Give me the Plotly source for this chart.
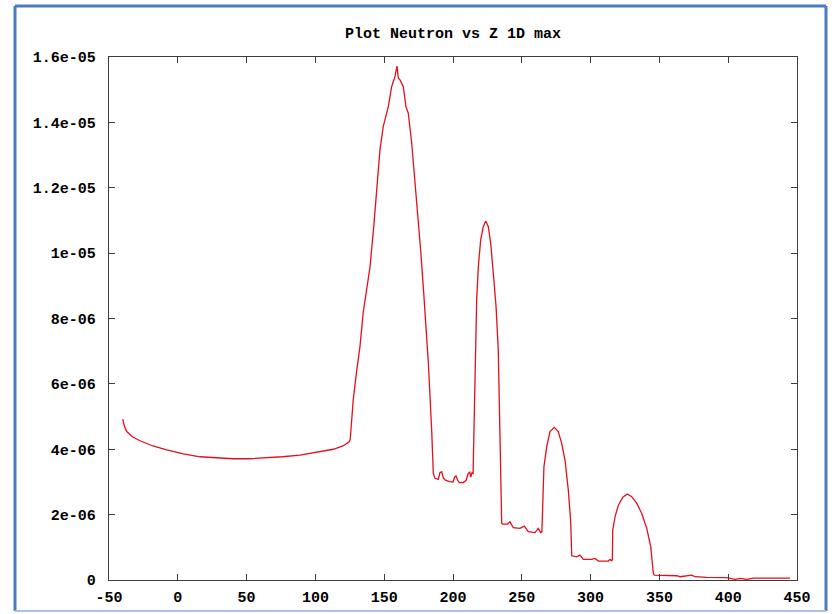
import plotly.graph_objects as go

# Data (y in units of 1e-6)
z_pos = [-40.0, -38.8, -37.1, -33.0, -27.5, -18.0, -8.1, 4.0, 16.1, 28.0, 40.1, 52.0, 64.6,
         76.0, 88.8, 100.0, 113.0, 120.0, 124.6,
         125.3, 127.5, 130.0, 132.4, 134.8, 138.4, 139.7, 142.6, 145.0, 146.9, 149.3, 153.0,
         155.4, 157.8, 159.3, 160.3, 161.5, 163.9, 165.8, 167.5, 170.0, 172.4, 174.8, 176.5,
         178.9, 179.7, 182.1, 184.5, 185.7,
         186.9, 189.3, 190.5, 191.8, 193.0, 194.2, 197.3, 200.0, 201.2, 202.2, 203.4, 204.6,
         207.5, 209.5, 211.1, 212.2, 212.9, 213.8, 214.6,
         215.4, 216.0, 217.2, 218.4, 220.1, 222.0, 223.8, 225.7, 227.4, 229.3, 231.3, 232.9,
         233.7, 234.5, 235.4,
         236.1, 239.5, 241.4, 243.8, 248.7, 251.8, 254.7, 259.6, 262.0, 263.7, 264.6,
         265.2, 266.1, 268.1, 270.5, 273.6, 276.5, 279.0, 281.4, 283.8, 285.5, 286.3,
         289.9, 292.3, 294.7, 300.8, 303.2, 305.6, 312.9, 314.1, 315.4, 315.8,
         316.1, 317.8, 320.2, 323.4, 326.7, 329.9, 333.5, 337.1, 340.8, 343.7, 345.6, 346.3,
         355.3, 362.6, 365.0, 371.0, 373.5, 375.9, 384.4, 398.9, 405.0, 408.6, 413.5,
         418.3, 445.0]
neutron_max = [4.92, 4.70, 4.54, 4.38, 4.26, 4.10, 3.98, 3.86, 3.77, 3.73, 3.71, 3.71, 3.73,
               3.77, 3.82, 3.90, 4.00, 4.10, 4.23,
               4.30, 5.51, 6.40, 7.14, 8.20, 9.18, 9.58, 10.91, 12.14, 13.15, 13.87, 14.48,
               15.09, 15.40, 15.72, 15.35, 15.30, 15.09, 14.48, 14.28, 13.36, 12.14, 11.11, 10.09,
               8.67, 8.16, 6.63, 4.59, 3.26,
               3.11, 3.08, 3.28, 3.31, 3.12, 3.06, 3.01, 3.00, 3.15, 3.18, 3.05, 2.98,
               2.98, 3.05, 3.26, 3.30, 3.15, 3.28, 3.26,
               5.00, 7.04, 8.57, 9.58, 10.40, 10.81, 10.98, 10.81, 10.30, 9.38, 8.36, 7.04,
               5.51, 3.06, 1.73,
               1.71, 1.71, 1.78, 1.60, 1.58, 1.65, 1.48, 1.45, 1.58, 1.45, 1.47,
               2.45, 3.47, 4.08, 4.54, 4.67, 4.54, 4.18, 3.67, 2.75, 1.80, 0.74,
               0.71, 0.76, 0.63, 0.63, 0.66, 0.58, 0.58, 0.63, 0.59, 0.62,
               1.53, 1.94, 2.29, 2.53, 2.63, 2.55, 2.35, 2.04, 1.58, 1.02, 0.20, 0.15,
               0.15, 0.13, 0.10, 0.13, 0.15, 0.10, 0.08, 0.07, 0.02, 0.05, 0.02,
               0.06, 0.06]

x_ticks = [-50, 0, 50, 100, 150, 200, 250, 300, 350, 400, 450]
y_tickvals = [0, 2, 4, 6, 8, 10, 12, 14, 16]
y_ticktext = ["0", "2e-06", "4e-06", "6e-06", "8e-06", "1e-05", "1.2e-05", "1.4e-05", "1.6e-05"]

W, H = 832, 614
L, R, T, B = 109, 797, 57, 580

FONT = "Liberation Mono, DejaVu Sans Mono, monospace"

fig = go.Figure()
fig.add_trace(go.Scatter(x=z_pos, y=neutron_max, mode="lines",
                         line=dict(color="#e3101a", width=1.3), showlegend=False,
                         hoverinfo="skip"))

axis_common = dict(showline=True, linecolor="#3c3c3c", linewidth=1.3, mirror="ticks",
                   ticks="inside", ticklen=6, tickcolor="#3c3c3c", tickwidth=1.3,
                   showgrid=False, zeroline=False, automargin=False,
                   tickfont=dict(family=FONT, size=15, color="#000000", weight="bold"))

fig.update_xaxes(range=[-50, 450], tickvals=x_ticks, ticktext=[str(v) for v in x_ticks],
                 ticklabelstandoff=3, **axis_common)
fig.update_yaxes(range=[0, 16], tickvals=y_tickvals, ticktext=y_ticktext,
                 ticklabelstandoff=9, **axis_common)

# blue frame around image (pixel positions converted to paper coordinates)
def px(xp):
    return (xp - L) / (R - L)

def py(yp):
    return (B - yp) / (B - T)

frame = [
    (15, 6, 15, 611, "#4a7bbf", 3),
    (15, 6, 826, 6, "#4a7bbf", 3),
    (826, 6, 826, 611, "#4a7bbf", 3),
    (15, 611, 826, 611, "#a8c2e4", 2),
]
for x0, y0, x1, y1, c, w in frame:
    fig.add_shape(type="line", xref="paper", yref="paper",
                  x0=px(x0), y0=py(y0), x1=px(x1), y1=py(y1),
                  line=dict(color=c, width=w), layer="above")

fig.update_layout(
    width=W, height=H,
    margin=dict(l=L, r=W - R, t=T, b=H - B, pad=0, autoexpand=False),
    paper_bgcolor="white", plot_bgcolor="white",
    title=dict(text="<b>Plot Neutron vs Z 1D max</b>", x=0.5, xref="paper", xanchor="center",
               y=1 - 33 / H, yref="container", yanchor="middle",
               font=dict(family=FONT, size=15, color="#000000")),
    font=dict(family=FONT, size=15, color="#000000"),
)

fig.write_html("out.html")
